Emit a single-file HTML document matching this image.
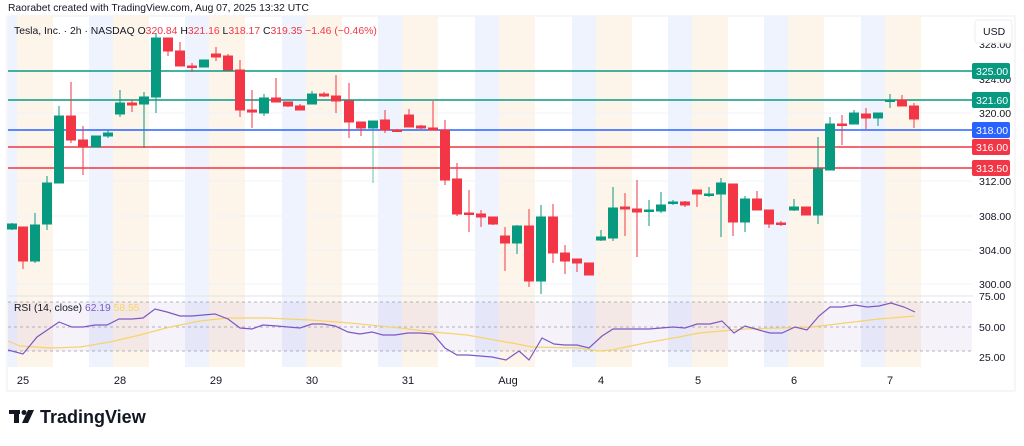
<!DOCTYPE html>
<html><head><meta charset="utf-8"><style>
body{margin:0;background:#fff;width:1024px;height:441px;overflow:hidden;font-family:"Liberation Sans",sans-serif}
svg text{font-family:"Liberation Sans",sans-serif}
.g{fill:#089981;stroke:#089981}.r{fill:#f23645;stroke:#f23645}
</style></head><body>
<svg width="1024" height="441" viewBox="0 0 1024 441" xmlns="http://www.w3.org/2000/svg">
<text x="8" y="11" font-size="10.3" fill="#131722">Raorabet created with TradingView.com, Aug 07, 2025 13:32 UTC</text>
<rect x="7" y="16" width="1008" height="375" fill="none" stroke="#eceef2"/>
<g>
<rect x="8" y="16" width="9" height="351" fill="#eef3fd"/><rect x="17" y="16" width="36" height="351" fill="#fdf5ea"/>
<rect x="89" y="16" width="24" height="351" fill="#eef3fd"/><rect x="113" y="16" width="36" height="351" fill="#fdf5ea"/>
<rect x="185" y="16" width="24" height="351" fill="#eef3fd"/><rect x="209" y="16" width="36" height="351" fill="#fdf5ea"/>
<rect x="282" y="16" width="24" height="351" fill="#eef3fd"/><rect x="306" y="16" width="36" height="351" fill="#fdf5ea"/>
<rect x="378" y="16" width="24" height="351" fill="#eef3fd"/><rect x="402" y="16" width="36" height="351" fill="#fdf5ea"/>
<rect x="475" y="16" width="24" height="351" fill="#eef3fd"/><rect x="499" y="16" width="36" height="351" fill="#fdf5ea"/>
<rect x="572" y="16" width="24" height="351" fill="#eef3fd"/><rect x="596" y="16" width="36" height="351" fill="#fdf5ea"/>
<rect x="668" y="16" width="24" height="351" fill="#eef3fd"/><rect x="692" y="16" width="36" height="351" fill="#fdf5ea"/>
<rect x="764" y="16" width="24" height="351" fill="#eef3fd"/><rect x="788" y="16" width="36" height="351" fill="#fdf5ea"/>
<rect x="861" y="16" width="24" height="351" fill="#eef3fd"/><rect x="885" y="16" width="36" height="351" fill="#fdf5ea"/>
</g>
<g stroke="#f0f3fa" stroke-width="1">
<line x1="8" x2="972" y1="113" y2="113"/><line x1="8" x2="972" y1="181" y2="181"/><line x1="8" x2="972" y1="216" y2="216"/><line x1="8" x2="972" y1="250" y2="250"/><line x1="8" x2="972" y1="284" y2="284"/>
</g>
<line x1="7" x2="1015" y1="296" y2="296" stroke="#e0e3eb"/>
<rect x="8" y="302" width="964" height="49" fill="#7e57c2" fill-opacity="0.08"/>
<g stroke="#9598a1" stroke-dasharray="3,3" stroke-width="1" opacity="0.7">
<line x1="8" x2="972" y1="302" y2="302"/><line x1="8" x2="972" y1="327" y2="327"/><line x1="8" x2="972" y1="351" y2="351"/>
</g>
<polyline fill="none" stroke="#f7d36b" stroke-width="1.2" points="8,341 20,346 50,348 80,347 110,342 140,335 170,327 200,321 227,318 267,318 310,320 350,323 400,328 433,332 467,335 500,341 512,343 532,347 579,348 599,351 612,350 645,343 679,337 699,333 745,329 812,327 845,323 879,319 915,316"/>
<polyline fill="none" stroke="#7e57c2" stroke-width="1.2" points="8,350 23,354 37,337 59,322 72,327 83,327 95,325 107,325 119,319 132,319 143,318 155,309 167,312 180,316 192,316 203,315 215,314 228,319 240,328 252,329 263,325 277,326 288,327 300,328 312,324 323,324 335,326 348,332 360,334 372,332 383,335 395,335 408,333 420,333 433,334 445,348 457,355 468,355 480,356 492,357 506,360 519,351 529,360 542,338 554,344 565,345 577,345 589,348 602,336 613,329 625,329 637,329 649,329 661,328 673,327 685,328 697,324 710,324 722,321 734,333 745,326 759,330 770,333 782,333 795,327 807,330 819,316 830,307 842,307 855,305 867,307 879,306 891,303 904,307 915,312"/>
<g stroke-width="1.5">
<line x1="8" x2="972" y1="71" y2="71" stroke="#089981"/>
<line x1="8" x2="972" y1="100" y2="100" stroke="#089981"/>
<line x1="8" x2="972" y1="130" y2="130" stroke="#2962ff"/>
<line x1="8" x2="972" y1="147" y2="147" stroke="#f23645"/>
<line x1="8" x2="972" y1="168" y2="168" stroke="#f23645"/>
</g>
<g>
<line class="g" x1="12" x2="12" y1="223" y2="230"/><rect class="g" x="7.5" y="224" width="9" height="5"/>
<line class="r" x1="23" x2="23" y1="227" y2="269"/><rect class="r" x="18.5" y="227" width="9" height="34"/>
<line class="g" x1="35" x2="35" y1="213" y2="263"/><rect class="g" x="30.5" y="225" width="9" height="36"/>
<line class="g" x1="47" x2="47" y1="176" y2="230"/><rect class="g" x="42.5" y="183" width="9" height="41"/>
<line class="g" x1="59" x2="59" y1="106" y2="183"/><rect class="g" x="54.5" y="116" width="9" height="67"/>
<line class="r" x1="71" x2="71" y1="82" y2="143"/><rect class="r" x="66.5" y="116" width="9" height="24"/>
<line class="r" x1="83" x2="83" y1="126" y2="175"/><rect class="r" x="78.5" y="140" width="9" height="7"/>
<line class="g" x1="96" x2="96" y1="136" y2="147"/><rect class="g" x="91.5" y="136" width="9" height="11"/>
<line class="g" x1="108" x2="108" y1="130" y2="138"/><rect class="g" x="103.5" y="133" width="9" height="3"/>
<line class="g" x1="120" x2="120" y1="90" y2="117"/><rect class="g" x="115.5" y="103" width="9" height="11"/>
<line class="r" x1="132" x2="132" y1="100" y2="112"/><rect class="r" x="127.5" y="103" width="9" height="2"/>
<line class="g" x1="144" x2="144" y1="92" y2="148"/><rect class="g" x="139.5" y="97" width="9" height="7"/>
<line class="g" x1="156" x2="156" y1="33" y2="113"/><rect class="g" x="151.5" y="38" width="9" height="59"/>
<line class="r" x1="168" x2="168" y1="38" y2="56"/><rect class="r" x="163.5" y="38" width="9" height="13"/>
<line class="r" x1="180" x2="180" y1="42" y2="66"/><rect class="r" x="175.5" y="51" width="9" height="15"/>
<line class="r" x1="192" x2="192" y1="63" y2="72"/><rect class="r" x="187.5" y="66" width="9" height="1.5"/>
<line class="g" x1="204" x2="204" y1="60" y2="67"/><rect class="g" x="199.5" y="60" width="9" height="7"/>
<line class="r" x1="216" x2="216" y1="47" y2="61"/><rect class="r" x="211.5" y="54" width="9" height="3"/>
<line class="r" x1="228" x2="228" y1="54" y2="70"/><rect class="r" x="223.5" y="56" width="9" height="14"/>
<line class="r" x1="240" x2="240" y1="60" y2="117"/><rect class="r" x="235.5" y="70" width="9" height="40"/>
<line class="r" x1="252" x2="252" y1="90" y2="128"/><rect class="r" x="247.5" y="110" width="9" height="2"/>
<line class="g" x1="264" x2="264" y1="94" y2="116"/><rect class="g" x="259.5" y="98" width="9" height="15"/>
<line class="r" x1="276" x2="276" y1="78" y2="102"/><rect class="r" x="271.5" y="98" width="9" height="4"/>
<line class="r" x1="288" x2="288" y1="102" y2="107"/><rect class="r" x="283.5" y="102" width="9" height="4"/>
<line class="r" x1="300" x2="300" y1="104" y2="110"/><rect class="r" x="295.5" y="106" width="9" height="4"/>
<line class="g" x1="312" x2="312" y1="91" y2="104"/><rect class="g" x="307.5" y="94" width="9" height="10"/>
<line class="r" x1="324" x2="324" y1="92" y2="97"/><rect class="r" x="319.5" y="94" width="9" height="2"/>
<line class="r" x1="336" x2="336" y1="75" y2="113"/><rect class="r" x="331.5" y="96" width="9" height="5"/>
<line class="r" x1="349" x2="349" y1="83" y2="138"/><rect class="r" x="344.5" y="101" width="9" height="21"/>
<line class="r" x1="361" x2="361" y1="122" y2="136"/><rect class="r" x="356.5" y="122" width="9" height="6"/>
<line class="g" x1="373" x2="373" y1="121" y2="183" opacity="0.6"/><rect class="g" x="368.5" y="121" width="9" height="7"/>
<line class="r" x1="385" x2="385" y1="110" y2="133"/><rect class="r" x="380.5" y="120" width="9" height="10"/>
<line class="r" x1="397" x2="397" y1="129" y2="132"/><rect class="r" x="392.5" y="130" width="9" height="1.5"/>
<line class="r" x1="409" x2="409" y1="109" y2="127"/><rect class="r" x="404.5" y="115" width="9" height="12"/>
<line class="r" x1="421" x2="421" y1="125" y2="129"/><rect class="r" x="416.5" y="126" width="9" height="2"/>
<line class="r" x1="433" x2="433" y1="101" y2="130"/><rect class="r" x="428.5" y="128" width="9" height="2"/>
<line class="r" x1="445" x2="445" y1="120" y2="185"/><rect class="r" x="440.5" y="130" width="9" height="50"/>
<line class="r" x1="457" x2="457" y1="163" y2="216"/><rect class="r" x="452.5" y="179" width="9" height="35"/>
<line class="r" x1="469" x2="469" y1="190" y2="232"/><rect class="r" x="464.5" y="213" width="9" height="1.5"/>
<line class="r" x1="481" x2="481" y1="210" y2="227"/><rect class="r" x="476.5" y="214" width="9" height="3"/>
<line class="r" x1="493" x2="493" y1="217" y2="225"/><rect class="r" x="488.5" y="217" width="9" height="7"/>
<line class="r" x1="505" x2="505" y1="227" y2="271"/><rect class="r" x="500.5" y="236" width="9" height="7"/>
<line class="g" x1="517" x2="517" y1="225" y2="254"/><rect class="g" x="512.5" y="226" width="9" height="17"/>
<line class="r" x1="529" x2="529" y1="209" y2="287"/><rect class="r" x="524.5" y="226" width="9" height="55"/>
<line class="g" x1="541" x2="541" y1="205" y2="294"/><rect class="g" x="536.5" y="217" width="9" height="64"/>
<line class="r" x1="553" x2="553" y1="204" y2="263"/><rect class="r" x="548.5" y="217" width="9" height="36"/>
<line class="r" x1="565" x2="565" y1="245" y2="274"/><rect class="r" x="560.5" y="253" width="9" height="8"/>
<line class="r" x1="577" x2="577" y1="259" y2="272"/><rect class="r" x="572.5" y="259" width="9" height="4"/>
<line class="r" x1="589" x2="589" y1="263" y2="275"/><rect class="r" x="584.5" y="263" width="9" height="12"/>
<line class="g" x1="601" x2="601" y1="230" y2="241"/><rect class="g" x="596.5" y="237" width="9" height="3"/>
<line class="g" x1="613" x2="613" y1="187" y2="241"/><rect class="g" x="608.5" y="208" width="9" height="30"/>
<line class="r" x1="625" x2="625" y1="193" y2="236"/><rect class="r" x="620.5" y="207" width="9" height="2"/>
<line class="r" x1="637" x2="637" y1="180" y2="257"/><rect class="r" x="632.5" y="209" width="9" height="3"/>
<line class="g" x1="649" x2="649" y1="200" y2="226"/><rect class="g" x="644.5" y="210" width="9" height="1.5"/>
<line class="g" x1="661" x2="661" y1="192" y2="213"/><rect class="g" x="656.5" y="205" width="9" height="6"/>
<line class="g" x1="673" x2="673" y1="200" y2="205"/><rect class="g" x="668.5" y="202" width="9" height="1.5"/>
<line class="r" x1="685" x2="685" y1="201" y2="207"/><rect class="r" x="680.5" y="202" width="9" height="3"/>
<line class="r" x1="697" x2="697" y1="190" y2="207"/><rect class="r" x="692.5" y="190" width="9" height="4"/>
<line class="g" x1="709" x2="709" y1="187" y2="197"/><rect class="g" x="704.5" y="194" width="9" height="1.5"/>
<line class="g" x1="721" x2="721" y1="178" y2="237"/><rect class="g" x="716.5" y="183" width="9" height="11"/>
<line class="r" x1="733" x2="733" y1="184" y2="236"/><rect class="r" x="728.5" y="184" width="9" height="38"/>
<line class="g" x1="745" x2="745" y1="196" y2="232"/><rect class="g" x="740.5" y="199" width="9" height="23"/>
<line class="r" x1="757" x2="757" y1="191" y2="210"/><rect class="r" x="752.5" y="199" width="9" height="11"/>
<line class="r" x1="769" x2="769" y1="210" y2="228"/><rect class="r" x="764.5" y="210" width="9" height="14"/>
<line class="r" x1="781" x2="781" y1="221" y2="226"/><rect class="r" x="776.5" y="223" width="9" height="1.5"/>
<line class="g" x1="794" x2="794" y1="199" y2="211"/><rect class="g" x="789.5" y="207" width="9" height="3"/>
<line class="r" x1="806" x2="806" y1="207" y2="215"/><rect class="r" x="801.5" y="207" width="9" height="8"/>
<line class="g" x1="818" x2="818" y1="137" y2="224"/><rect class="g" x="813.5" y="169" width="9" height="46"/>
<line class="g" x1="830" x2="830" y1="117" y2="170"/><rect class="g" x="825.5" y="124" width="9" height="46"/>
<line class="r" x1="842" x2="842" y1="115" y2="145"/><rect class="r" x="837.5" y="124" width="9" height="1.5"/>
<line class="g" x1="854" x2="854" y1="110" y2="124"/><rect class="g" x="849.5" y="113" width="9" height="11"/>
<line class="r" x1="866" x2="866" y1="108" y2="129"/><rect class="r" x="861.5" y="114" width="9" height="4"/>
<line class="g" x1="878" x2="878" y1="113" y2="126"/><rect class="g" x="873.5" y="113" width="9" height="5"/>
<line class="g" x1="890" x2="890" y1="94" y2="108"/><rect class="g" x="885.5" y="100" width="9" height="1.5"/>
<line class="r" x1="902" x2="902" y1="95" y2="106"/><rect class="r" x="897.5" y="100" width="9" height="6"/>
<line class="r" x1="914" x2="914" y1="103" y2="128"/><rect class="r" x="909.5" y="106" width="9" height="13"/>
</g>
<text x="14" y="34" font-size="10.4" fill="#131722">Tesla, Inc. · 2h · NASDAQ <tspan>O</tspan><tspan fill="#f23645">320.84</tspan> <tspan>H</tspan><tspan fill="#f23645">321.16</tspan> <tspan>L</tspan><tspan fill="#f23645">318.17</tspan> <tspan>C</tspan><tspan fill="#f23645">319.35</tspan> <tspan fill="#f23645">−1.46 (−0.46%)</tspan></text>
<text x="14" y="311" font-size="10.3" fill="#131722">RSI (14, close) <tspan fill="#7e57c2">62.19</tspan> <tspan fill="#f7d36b">58.55</tspan></text>
<rect x="973" y="17" width="41" height="373" fill="#fff"/>
<g font-size="10.5" fill="#131722">
<text x="979" y="48">328.00</text>
<text x="979" y="83">324.00</text>
<text x="979" y="117">320.00</text>
<text x="979" y="185">312.00</text>
<text x="979" y="220">308.00</text>
<text x="979" y="254">304.00</text>
<text x="979" y="288">300.00</text>
<text x="979" y="300">75.00</text>
<text x="979" y="331">50.00</text>
<text x="979" y="361">25.00</text>
</g>
<rect x="975" y="20" width="37" height="23" rx="3" fill="#fff" stroke="#eceef2"/>
<text x="983" y="35" font-size="10.5" fill="#131722">USD</text>
<g font-size="10.5" fill="#fff">
<rect x="972" y="63" width="38" height="16" rx="2" fill="#089981"/><text x="976" y="75">325.00</text>
<rect x="972" y="92" width="38" height="16" rx="2" fill="#089981"/><text x="976" y="104">321.60</text>
<rect x="972" y="122" width="38" height="16" rx="2" fill="#2962ff"/><text x="976" y="134">318.00</text>
<rect x="972" y="139" width="38" height="16" rx="2" fill="#f23645"/><text x="976" y="151">316.00</text>
<rect x="972" y="160" width="38" height="16" rx="2" fill="#f23645"/><text x="976" y="172">313.50</text>
</g>
<g font-size="11" fill="#131722" text-anchor="middle">
<text x="23" y="384">25</text><text x="120" y="384">28</text><text x="216" y="384">29</text><text x="312" y="384">30</text><text x="408" y="384">31</text><text x="508" y="384">Aug</text><text x="601" y="384">4</text><text x="698" y="384">5</text><text x="794" y="384">6</text><text x="890" y="384">7</text>
</g>
<g fill="#131722">
<rect x="9" y="410" width="11" height="4"/><rect x="14" y="410" width="5" height="13"/>
<circle cx="24" cy="412.5" r="2.5"/><polygon points="28,410 34,410 28,423 22,423"/>
</g>
<text x="40" y="423" font-size="18" font-weight="bold" fill="#131722">TradingView</text>
</svg>
</body></html>
